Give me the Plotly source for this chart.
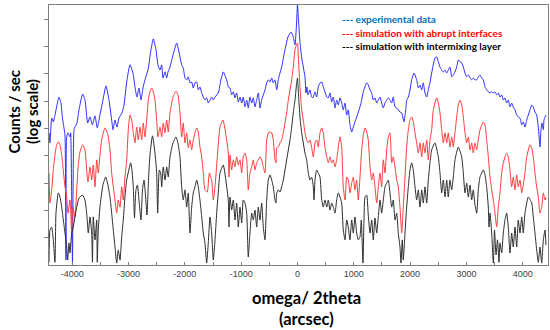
import plotly.graph_objects as go

# ---- data (x in arcsec, y as log10(counts/sec)) ----
blue_x = [-4413,-4396,-4365,-4337,-4307,-4277,-4236,-4200,-4177,-4147,
          -4129,-4111,-4099,-4076,-4040,-4028,-3996,-3969,-3952,-3916,
          -3881,-3815,-3774,-3726,-3685,-3644,-3596,-3556,-3508,-3455,
          -3401,-3348,-3300,-3277,-3241,-3206,-3170,-3117,-3081,-3028,
          -2975,-2922,-2886,-2851,-2815,-2779,-2744,-2709,-2655,-2602,
          -2561,-2513,-2478,-2442,-2412,-2389,-2353,-2323,-2300,-2264,
          -2211,-2145,-2105,-2057,-2029,-1998,-1968,-1940,-1909,-1879,
          -1851,-1820,-1790,-1762,-1732,-1701,-1673,-1643,-1613,-1584,
          -1554,-1524,-1495,-1465,-1407,-1359,-1318,-1257,-1229,-1199,
          -1169,-1140,-1110,-1080,-1051,-1021,-991,-963,-932,-902,
          -874,-844,-813,-785,-755,-725,-696,-666,-636,-607,
          -577,-547,-519,-488,-458,-430,-400,-369,-341,-311,
          -281,-222,-169,-115,-75,-44,-18,0,18,44,
          75,103,133,151,169,186,222,252,275,311,
          341,369,400,430,458,488,519,547,577,607,
          636,666,696,725,755,785,813,844,874,902,
          932,963,991,1021,1051,1080,1110,1140,1169,1229,
          1257,1288,1318,1346,1376,1407,1435,1465,1495,1524,
          1554,1584,1613,1643,1673,1701,1732,1762,1790,1820,
          1851,1874,1891,1922,1939,1968,1998,2028,2069,2117,
          2146,2176,2206,2234,2264,2295,2323,2353,2383,2442,
          2472,2501,2531,2561,2590,2620,2650,2678,2708,2739,
          2767,2797,2827,2856,2886,2916,2945,2975,3005,3034,
          3064,3094,3122,3152,3183,3211,3241,3271,3300,3330,
          3360,3389,3419,3449,3478,3508,3538,3566,3596,3627,
          3655,3685,3715,3744,3774,3804,3832,3863,3893,3921,
          3952,3982,4010,4040,4071,4099,4129,4160,4188,4218,
          4248,4277,4307,4324,4342,4366,4378,4396,4413]
blue_log = [4.84,4.47,5.38,5.24,5.49,5.79,6.15,5.93,5.42,5.02,
            4.76,0.18,4.69,4.84,4.69,4.84,0.10,4.95,5.05,5.20,
            5.68,6.26,6.04,5.20,5.42,5.13,5.46,5.02,5.49,6.04,
            6.56,6.04,5.31,4.95,5.31,5.05,5.38,5.57,5.86,6.78,
            7.33,7.03,6.52,6.15,6.48,6.04,6.48,6.78,7.14,7.88,
            8.28,7.88,7.33,7.14,7.33,6.85,7.07,6.85,7.07,7.25,
            7.69,8.13,7.80,7.33,7.22,6.85,6.78,6.89,6.67,6.70,
            6.48,6.67,6.70,6.41,6.52,6.30,6.15,6.04,6.12,5.93,
            6.04,6.15,6.04,6.15,6.30,6.78,7.07,6.78,6.52,6.48,
            6.23,6.34,6.12,6.30,5.97,6.15,5.93,6.15,5.79,6.04,
            5.75,6.15,5.93,6.12,5.79,6.04,6.30,5.75,6.04,6.23,
            6.41,6.67,6.78,6.70,6.85,6.67,6.78,6.41,6.78,7.03,
            7.25,7.88,8.35,8.53,8.35,8.06,8.79,9.55,8.97,8.17,
            7.58,7.25,6.89,6.30,6.52,6.23,6.41,6.15,6.12,6.34,
            6.15,6.52,6.67,6.70,6.52,6.34,6.15,6.12,6.30,5.97,
            6.15,5.75,6.04,5.86,6.12,5.93,5.68,5.93,5.49,5.68,
            5.13,4.87,5.05,5.24,5.42,5.60,5.79,6.04,6.34,6.67,
            6.59,6.41,6.30,6.04,6.12,5.93,6.04,6.15,5.93,5.75,
            5.93,6.04,6.12,6.04,5.93,6.15,5.79,5.75,5.68,5.60,
            5.57,5.38,5.24,5.68,6.04,6.15,6.41,6.78,7.03,6.78,
            6.48,6.59,6.41,6.67,6.30,6.15,6.41,6.67,7.03,7.58,
            7.62,7.44,7.25,7.14,7.07,7.14,7.03,7.14,7.25,6.89,
            6.96,7.07,7.25,7.51,7.44,7.40,7.25,7.03,6.89,6.96,
            6.85,6.78,6.85,6.78,6.78,6.89,6.96,6.85,6.78,6.52,
            6.41,6.34,6.30,6.34,6.30,6.34,6.23,6.30,6.15,6.23,
            6.04,6.12,5.93,6.04,5.79,5.93,5.79,5.68,5.49,5.42,
            5.38,5.13,5.24,5.05,5.31,5.49,5.68,5.86,5.79,5.60,
            5.49,5.05,4.32,4.95,5.20,4.95,5.31,5.42,5.49]

red_x = [-4413,-4396,-4365,-4337,-4307,-4277,-4248,-4218,-4188,-4165,
         -4129,-4099,-4076,-4040,-4010,-3987,-3952,-3921,-3893,-3863,
         -3815,-3774,-3744,-3721,-3685,-3655,-3627,-3596,-3566,-3538,
         -3508,-3472,-3419,-3366,-3330,-3300,-3271,-3241,-3211,-3183,
         -3152,-3122,-3094,-3064,-3033,-3005,-2975,-2944,-2916,-2886,
         -2856,-2828,-2797,-2767,-2739,-2709,-2678,-2650,-2620,-2589,
         -2561,-2531,-2501,-2478,-2442,-2412,-2384,-2353,-2323,-2295,
         -2264,-2211,-2158,-2123,-2087,-2057,-2029,-1998,-1968,-1940,
         -1909,-1879,-1851,-1820,-1790,-1762,-1732,-1701,-1673,-1643,
         -1602,-1566,-1524,-1495,-1465,-1424,-1376,-1323,-1257,-1229,
         -1217,-1199,-1169,-1140,-1110,-1080,-1051,-1021,-991,-963,
         -932,-902,-874,-844,-813,-785,-755,-725,-696,-666,
         -636,-607,-577,-547,-519,-488,-458,-430,-400,-382,
         -369,-341,-311,-281,-252,-222,-192,-163,-133,-103,
         -75,-44,-18,0,18,44,75,103,133,163,
         192,222,252,281,311,341,369,400,430,458,
         488,519,547,577,607,636,666,696,725,755,
         785,813,844,874,902,932,963,991,1021,1051,
         1080,1110,1140,1169,1199,1229,1257,1288,1318,1346,
         1376,1407,1435,1465,1495,1524,1554,1584,1613,1643,
         1673,1701,1732,1762,1790,1820,1851,1879,1909,1939,
         1968,1998,2028,2057,2087,2117,2146,2176,2206,2234,
         2264,2295,2323,2353,2383,2412,2472,2501,2531,2561,
         2590,2620,2650,2678,2708,2739,2767,2797,2827,2856,
         2886,2916,2945,2975,3005,3034,3064,3094,3122,3152,
         3183,3211,3241,3300,3330,3360,3389,3419,3449,3478,
         3508,3538,3566,3596,3627,3655,3715,3744,3774,3804,
         3832,3863,3893,3921,3952,3982,4010,4040,4071,4129,
         4160,4188,4218,4248,4277,4307,4337,4366,4396,4413]
red_log = [3.37,2.27,2.75,3.48,4.03,4.40,4.51,4.40,4.03,3.59,
           2.86,2.49,1.90,2.38,1.17,2.12,1.76,2.75,3.66,4.14,
           4.40,4.21,3.48,3.04,3.59,3.11,3.66,2.86,3.85,3.37,
           4.03,4.65,5.02,4.76,4.21,3.37,2.86,2.38,1.90,2.38,
           2.12,2.86,2.38,3.22,3.85,4.95,5.49,5.31,4.84,4.47,
           5.05,4.58,5.05,4.58,5.20,4.69,5.31,6.04,6.34,6.48,
           6.34,6.04,5.31,4.69,5.05,4.69,5.20,4.84,5.31,4.87,
           5.57,6.15,6.37,6.23,5.57,4.69,5.20,4.47,4.84,4.29,
           4.58,4.21,4.58,4.84,5.02,4.87,4.32,3.96,3.37,2.75,
           2.67,3.37,3.11,2.38,2.86,3.96,5.05,5.31,4.58,4.10,
           3.22,4.03,3.48,3.85,3.59,3.96,3.66,3.85,3.37,3.96,
           4.10,3.85,2.75,3.37,3.59,3.85,3.48,3.74,3.85,3.96,
           3.85,3.59,3.37,4.58,4.84,4.87,4.84,4.58,3.85,3.74,
           4.29,4.32,4.47,4.58,4.84,5.20,5.57,6.04,6.41,6.78,
           7.25,7.88,8.06,8.13,7.51,6.52,5.68,5.31,4.84,4.58,
           4.47,4.58,4.29,3.96,4.47,4.58,4.32,4.84,5.02,4.84,
           4.32,3.96,3.74,3.96,3.74,3.85,3.59,3.85,4.32,4.69,
           4.32,2.86,2.38,3.22,3.11,2.64,3.00,3.22,2.75,3.11,
           2.38,3.22,4.21,4.76,5.02,4.87,4.58,3.59,3.11,3.37,
           2.86,2.27,2.86,3.37,2.86,3.85,3.37,4.21,4.69,4.84,
           3.74,3.96,3.59,3.11,2.86,2.12,1.17,2.12,3.22,4.32,
           4.95,5.31,5.42,5.24,4.84,4.47,4.10,4.47,3.96,4.47,
           4.10,4.58,3.85,4.58,4.95,5.68,6.12,5.93,5.57,4.95,
           4.47,4.84,4.47,4.84,4.32,4.69,4.32,4.84,5.42,5.86,
           6.04,5.86,5.42,4.84,4.47,4.69,4.21,4.47,4.10,4.47,
           4.21,4.58,4.95,5.24,5.13,4.58,3.96,3.22,2.75,2.38,
           1.90,1.39,2.12,2.64,3.37,3.74,4.10,3.96,3.48,2.86,
           3.22,2.75,3.30,2.86,3.11,2.64,2.93,3.37,3.96,4.40,
           4.29,3.96,3.37,2.86,2.49,1.90,2.12,2.64,2.38,2.49]

black_x = [-4413,-4396,-4365,-4337,-4307,-4289,-4248,-4218,-4188,-4159,
           -4129,-4099,-4081,-4058,-4040,-4010,-3982,-3952,-3921,-3881,
           -3815,-3774,-3744,-3715,-3685,-3655,-3641,-3627,-3596,-3566,
           -3556,-3538,-3508,-3455,-3406,-3366,-3330,-3300,-3271,-3241,
           -3211,-3183,-3152,-3122,-3094,-3064,-3033,-2962,-2940,-2916,
           -2895,-2869,-2842,-2815,-2779,-2753,-2726,-2700,-2673,-2646,
           -2620,-2575,-2531,-2501,-2483,-2454,-2430,-2412,-2384,-2353,
           -2323,-2295,-2264,-2211,-2158,-2123,-2087,-2057,-2029,-1998,
           -1968,-1940,-1909,-1879,-1851,-1820,-1790,-1762,-1732,-1701,
           -1673,-1643,-1613,-1584,-1554,-1524,-1495,-1465,-1435,-1407,
           -1376,-1318,-1257,-1229,-1217,-1199,-1169,-1140,-1110,-1080,
           -1051,-1021,-991,-963,-932,-902,-874,-844,-813,-785,
           -755,-725,-696,-666,-636,-607,-577,-547,-519,-488,
           -458,-430,-400,-382,-369,-341,-311,-281,-252,-222,
           -192,-163,-133,-103,-75,-44,-18,0,18,44,
           75,103,133,163,192,222,252,281,293,311,
           341,369,400,430,458,488,519,547,577,607,
           636,666,696,725,755,785,813,844,874,902,
           932,963,991,1021,1051,1080,1110,1133,1163,1181,
           1199,1229,1257,1288,1318,1346,1376,1407,1435,1465,
           1495,1524,1554,1584,1613,1643,1673,1701,1732,1762,
           1790,1820,1838,1861,1879,1909,1939,1968,1998,2028,
           2057,2087,2117,2146,2176,2206,2234,2264,2295,2323,
           2353,2383,2442,2501,2531,2561,2590,2620,2650,2678,
           2708,2739,2767,2797,2856,2916,2945,2975,3005,3034,
           3064,3094,3122,3152,3183,3211,3241,3300,3330,3360,
           3389,3401,3419,3449,3478,3499,3526,3552,3579,3596,
           3627,3655,3685,3715,3744,3774,3804,3832,3863,3893,
           3921,3952,3982,4010,4040,4099,4160,4188,4218,4248,
           4277,4307,4337,4366,4396,4413]
black_log = [0.10,1.28,1.39,0.92,0.10,1.90,2.64,2.49,2.12,1.65,
             1.17,0.66,0.18,0.81,0.44,1.17,1.39,1.76,2.12,2.45,
             2.56,2.38,1.90,1.17,1.76,1.17,0.10,1.76,0.92,1.65,
             0.10,1.28,2.12,2.93,3.22,2.93,2.49,1.90,1.28,0.66,
             0.07,0.55,0.18,1.03,1.65,2.49,3.11,3.74,3.48,2.86,
             1.72,2.75,2.93,2.38,1.65,2.75,3.11,2.56,1.83,3.11,
             4.03,4.73,4.10,3.37,1.90,3.48,3.37,2.86,3.59,3.11,
             3.59,3.22,3.96,4.47,4.69,4.47,3.96,2.86,2.38,2.75,
             2.12,2.64,1.17,2.12,2.64,2.86,3.11,2.86,2.38,1.76,
             1.17,0.81,0.07,0.81,1.76,1.17,0.18,0.92,1.90,2.64,
             3.37,3.66,2.86,2.38,1.39,2.49,2.01,2.38,1.65,2.27,
             1.39,2.12,1.54,2.38,2.27,1.90,0.29,1.17,1.90,1.65,
             2.01,1.39,2.12,1.65,2.27,1.39,0.92,2.38,3.11,3.30,
             3.11,2.86,2.38,2.27,2.64,2.75,2.67,2.86,3.11,3.48,
             3.85,4.21,4.58,5.05,5.57,6.04,6.59,6.85,6.23,5.42,
             4.84,4.47,4.10,3.85,3.37,3.11,3.22,2.86,2.38,3.11,
             3.48,3.37,3.22,2.38,2.12,2.38,2.12,2.38,2.01,2.27,
             2.12,1.90,2.38,2.64,2.49,2.27,1.28,0.92,1.65,1.39,
             0.92,1.65,1.17,1.76,1.17,0.92,1.03,1.65,0.07,1.65,
             2.49,2.56,1.83,1.17,1.65,0.92,1.72,1.17,1.76,2.38,
             1.90,2.38,2.86,3.00,3.11,2.64,2.12,2.38,1.65,1.90,
             1.17,0.66,0.07,0.92,0.18,1.17,2.12,2.86,3.48,3.74,
             3.48,2.86,2.38,2.75,2.12,2.75,2.27,2.86,2.27,3.11,
             3.74,4.21,4.47,3.96,3.37,2.64,3.11,2.49,3.11,2.49,
             3.11,2.75,3.22,3.85,4.32,3.96,3.37,2.64,3.00,2.49,
             2.93,2.38,2.75,2.20,1.90,2.75,3.22,3.48,3.30,2.86,
             2.12,1.39,1.90,1.17,0.07,1.28,0.37,0.92,0.10,0.81,
             0.44,1.17,1.65,1.90,1.39,0.44,1.17,0.66,1.39,0.66,
             1.65,1.17,1.76,1.17,1.90,2.49,2.27,1.76,1.17,0.55,
             0.10,0.66,0.07,0.92,1.28,0.73]

x_tick_vals = [-4000, -3000, -2000, -1000, 0, 1000, 2000, 3000, 4000]
x_tick_text = ["-4000", "-3000", "-2000", "-1000", "0", "1000", "2000", "3000", "4000"]
y_decades = [1, 2, 3, 4, 5, 6, 7, 8, 9]

legend_labels = ["--- experimental data",
                 "--- simulation with abrupt interfaces",
                 "--- simulation with intermixing layer"]

assert len(blue_x) == len(blue_log)
assert len(red_x) == len(red_log)
assert len(black_x) == len(black_log)

fig = go.Figure()
for xs, ls, col in [(blue_x, blue_log, "rgb(45,45,255)"),
                    (red_x, red_log, "rgb(255,60,60)"),
                    (black_x, black_log, "rgb(45,45,45)")]:
    fig.add_trace(go.Scatter(x=xs, y=[10 ** v for v in ls], mode="lines",
                             line=dict(color=col, width=1, shape="spline", smoothing=0.5),
                             showlegend=False, hoverinfo="skip"))

axis_col = "#7f7f7f"
fig.update_layout(
    width=550, height=330,
    margin=dict(l=49, r=2, t=5, b=65),
    paper_bgcolor="white", plot_bgcolor="white",
    showlegend=False,
    xaxis=dict(range=[-4413, 4449], showgrid=False, zeroline=False,
               showline=True, linecolor=axis_col, linewidth=1, mirror=True,
               tickvals=x_tick_vals, ticktext=x_tick_text,
               ticks="inside", ticklen=3, tickcolor=axis_col,
               minor=dict(dtick=500, tick0=0, ticks="inside", ticklen=3, tickcolor=axis_col),
               tickfont=dict(family="Liberation Sans, Arial", size=9, color="#404040")),
    yaxis=dict(type="log", range=[0, 9.52], showgrid=False, zeroline=False,
               showline=True, linecolor=axis_col, linewidth=1, mirror=True,
               tickvals=[10 ** k for k in y_decades], showticklabels=False,
               ticks="outside", ticklen=4, tickcolor=axis_col),
)

title_font = dict(family="Lato, Open Sans, sans-serif", size=15, color="black")
xtitle_font = dict(family="Lato, Open Sans, sans-serif", size=16.5, color="black")
fig.add_annotation(text="<b>Counts / sec</b>", xref="paper", yref="paper",
                   x=(13.5 - 49) / 499, y=(265 - 112) / 260, textangle=-90,
                   showarrow=False, font=title_font, xanchor="center", yanchor="middle")
fig.add_annotation(text="<b>(log scale)</b>", xref="paper", yref="paper",
                   x=(32 - 49) / 499, y=(265 - 112) / 260, textangle=-90,
                   showarrow=False, font=title_font, xanchor="center", yanchor="middle")
fig.add_annotation(text="<b>omega/ 2theta</b>", xref="paper", yref="paper",
                   x=(306 - 49) / 499, y=(265 - 298) / 260,
                   showarrow=False, font=xtitle_font, xanchor="center", yanchor="middle")
fig.add_annotation(text="<b>(arcsec)</b>", xref="paper", yref="paper",
                   x=(306 - 49) / 499, y=(265 - 319) / 260,
                   showarrow=False, font=xtitle_font, xanchor="center", yanchor="middle")

legend_colors = ["#0070C0", "#FF0000", "#000000"]
legend_ypx = [19, 33, 46]
for lab, c, ypx in zip(legend_labels, legend_colors, legend_ypx):
    fig.add_annotation(text="<b>" + lab + "</b>", xref="paper", yref="paper",
                       x=(340 - 49) / 499, y=(265 - ypx) / 260,
                       showarrow=False, xanchor="left", yanchor="middle",
                       font=dict(family="Lato, Open Sans, sans-serif", size=10, color=c))

fig.write_html("out.html", config={"displayModeBar": False},
               post_script="document.body.style.margin='0px';document.body.style.overflow='hidden';")
